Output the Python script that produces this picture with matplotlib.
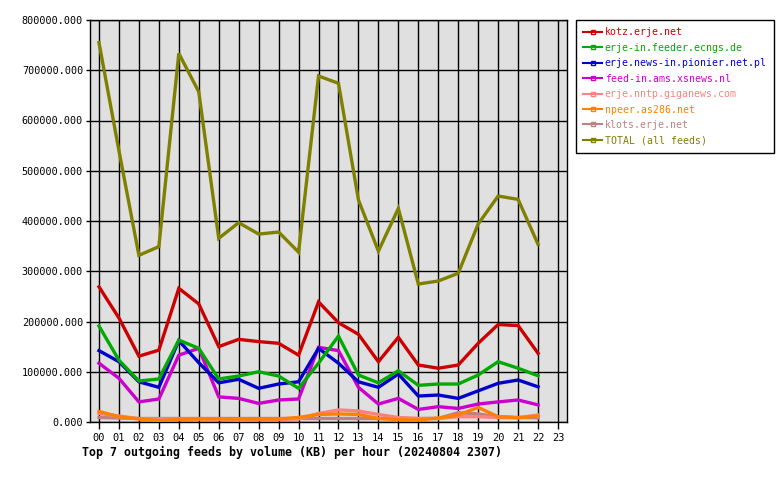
import matplotlib
matplotlib.use("Agg")
import matplotlib.pyplot as plt
from matplotlib.lines import Line2D

#-------------------------------------------- Data --------------------------------------------#

hours = list(range(0, 23))
hour_labels = ["%02d" % h for h in range(0, 24)]

feeds = ["kotz.erje.net", "erje-in.feeder.ecngs.de", "erje.news-in.pionier.net.pl",
         "feed-in.ams.xsnews.nl", "erje.nntp.giganews.com", "npeer.as286.net",
         "klots.erje.net", "TOTAL (all feeds)"]
colors = ["#cc0000", "#00aa00", "#0000cc", "#cc00cc", "#ff8080", "#ff8000", "#c08080", "#808000"]

kotz = [269000, 207000, 131000, 143000, 266000, 235000, 150000, 164500, 160000, 156600, 133000, 239000,
        197600, 174500, 120000, 168500, 113400, 107000, 113400, 156600, 194000, 192000, 136700]
ecngs = [191000, 123000, 81600, 85600, 163000, 146600, 85600, 91500, 100000, 91500, 67000, 117000,
         171000, 93500, 78000, 102000, 73000, 75600, 75600, 93500, 120000, 107000, 92000]
pionier = [142000, 120000, 80000, 69000, 162000, 118000, 78000, 85000, 67000, 75600, 80000, 146600,
           117000, 80000, 69000, 95500, 51700, 53700, 47000, 62000, 77000, 83600, 70000]
xsnews = [117000, 87000, 40000, 45800, 133000, 146600, 50000, 47000, 37000, 43800, 45800, 148600,
          142000, 69000, 35800, 47000, 25000, 30500, 27000, 35800, 40000, 43800, 34000]
giganews = [17000, 12000, 6600, 6000, 6000, 6000, 6000, 4000, 5000, 5000, 6000, 17000,
            24000, 22000, 15000, 9000, 7000, 7000, 10500, 10500, 9000, 8500, 14000]
npeer = [21000, 10500, 6000, 2600, 5000, 6000, 6000, 6000, 6000, 6000, 9000, 15000,
         16000, 15000, 7000, 4500, 4000, 8000, 14000, 29000, 10500, 8500, 12000]
klots = [9000, 8000, 7000, 7000, 7000, 7000, 7000, 7000, 7000, 7000, 7000, 7000,
         7000, 7000, 7000, 7000, 7000, 7000, 18600, 16000, 10500, 9000, 8500]
total = [755000, 540000, 331700, 349000, 733600, 657000, 365500, 396700, 374000, 378000, 338000, 688500,
         674000, 442000, 340000, 425000, 274600, 280600, 296000, 394000, 449700, 443000, 353600]

series = [kotz, ecngs, pionier, xsnews, giganews, npeer, klots, total]

#-------------------------------------------- Plot --------------------------------------------#

W, H = 780, 480
fig = plt.figure(figsize=(7.8, 4.8), dpi=100)
ax = fig.add_axes([90 / W, (H - 422) / H, (567 - 90) / W, (422 - 20) / H])
ax.set_facecolor("#e0e0e0")

# small feeds first, total on top
order = [6, 4, 5, 3, 2, 1, 0, 7]
for i in order:
    ax.plot(hours, series[i], color=colors[i], linewidth=2.4, solid_joinstyle="miter", zorder=3)

ax.set_xlim(-0.45, 23.45)
ax.set_ylim(0, 800000)
ax.set_xticks(range(0, 24))
ax.set_xticklabels(hour_labels, family="DejaVu Sans Mono", fontsize=7.5)
ax.set_yticks(range(0, 800001, 100000))
ax.set_yticklabels(["%d.000" % v for v in range(0, 800001, 100000)], family="DejaVu Sans Mono", fontsize=7.3)
ax.tick_params(axis="x", length=5, width=1, pad=3, color="black")
ax.tick_params(axis="y", length=3, width=1, pad=2, color="black")
ax.grid(True, color="black", linewidth=1, zorder=1)
ax.set_axisbelow(True)
for s in ax.spines.values():
    s.set_color("black")
    s.set_linewidth(1)

fig.text(82 / W, 1 - 452 / H, "Top 7 outgoing feeds by volume (KB) per hour (20240804 2307)",
         family="DejaVu Sans Mono", fontweight="bold", fontsize=8.4, va="center", ha="left")

handles = [Line2D([0], [0], color=c, linewidth=1.5, marker="s", markersize=3,
                  markerfacecolor="none", markeredgecolor=c) for c in colors]
leg = fig.legend(handles, feeds, loc="upper left", bbox_to_anchor=(576 / W, 1 - 20 / H),
                 borderaxespad=0, frameon=True, fancybox=False, framealpha=1,
                 edgecolor="black", handlelength=1.9, handletextpad=0.25,
                 labelspacing=0.55, borderpad=0.75,
                 prop={"family": "DejaVu Sans Mono", "size": 7.1})
leg.get_frame().set_linewidth(1)
for t, c in zip(leg.get_texts(), colors):
    t.set_color(c)

fig.savefig("out.png", dpi=100)
